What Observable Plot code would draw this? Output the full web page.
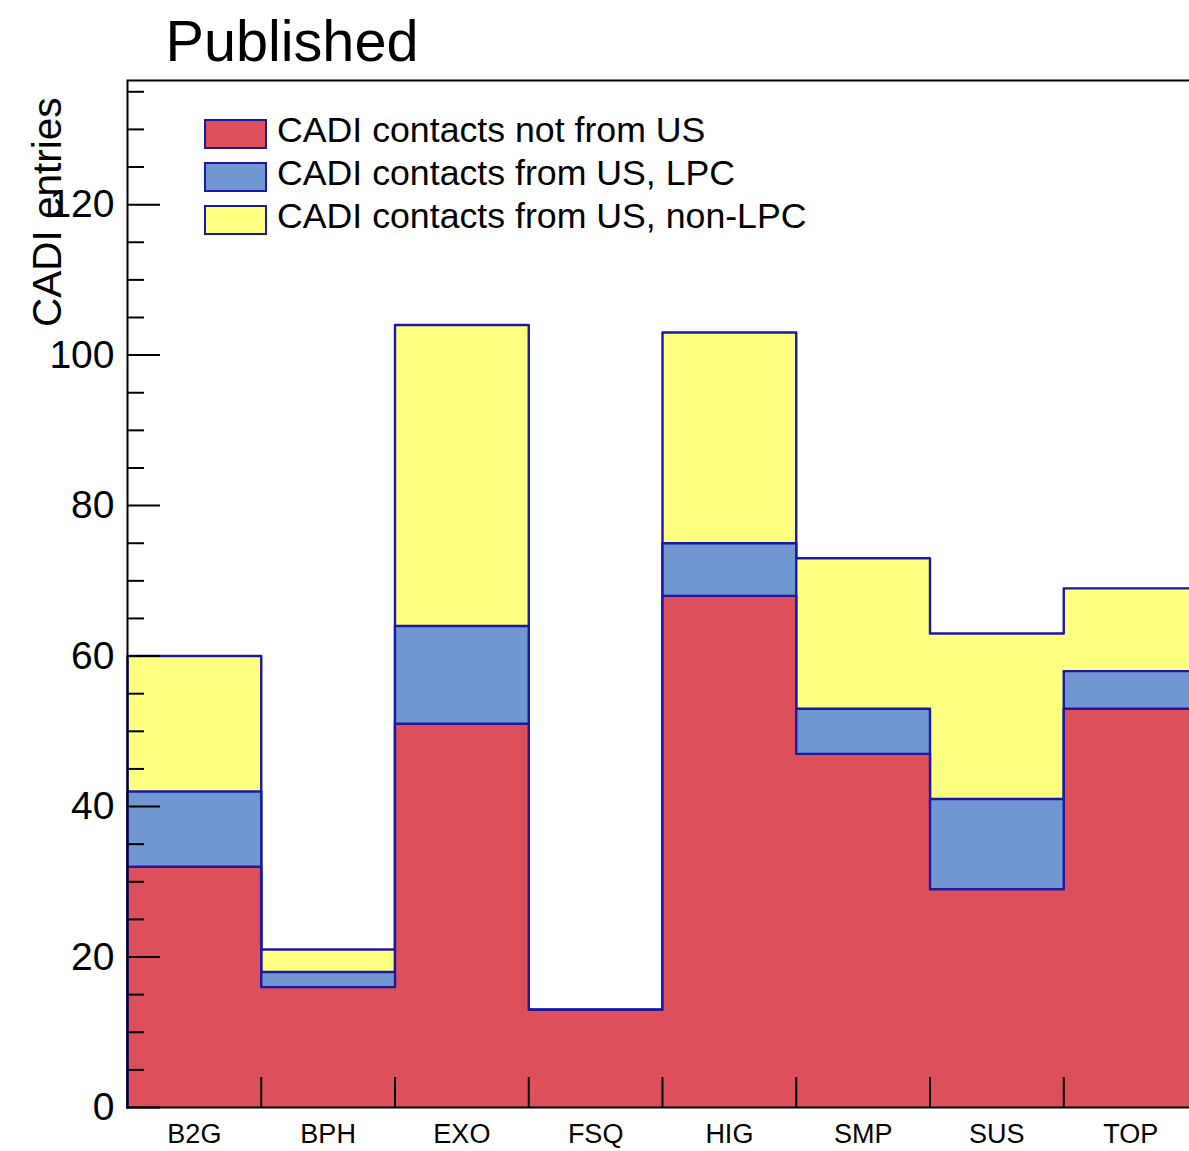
<!DOCTYPE html>
<html>
<head>
<meta charset="utf-8">
<script src="https://cdn.jsdelivr.net/npm/d3@7"></script>
<script src="https://cdn.jsdelivr.net/npm/@observablehq/plot@0.6"></script>
<style>
  html, body { margin: 0; padding: 0; background: #fff; overflow: hidden; }
  #wrap { position: relative; width: 1189px; height: 1151px; overflow: hidden; }
  #wrap svg { max-width: none; display: block; }
  .legend { position: absolute; left: 204px; top: 112px; font-family: "Liberation Sans", Arial, Helvetica, sans-serif; font-size: 35.7px; color: #000; }
  .legend .row { display: flex; align-items: center; height: 43px; line-height: 43px; white-space: nowrap; }
  .legend .sw { width: 63px; height: 30px; box-sizing: border-box; border: 2px solid #1a1aa0; margin-right: 10px; flex: none; }
  .legend .lbl { position: relative; top: -3px; }
</style>
</head>
<body>
<div id="wrap"></div>
<script>
// Published CADI entries per physics group, split by contact origin
const categories = ["B2G", "BPH", "EXO", "FSQ", "HIG", "SMP", "SUS", "TOP"];
const notFromUS   = [32, 16, 51, 13, 68, 47, 29, 53];
const fromUSLPC   = [10,  2, 13,  0,  7,  6, 12,  5];
const fromUSOther = [18,  3, 40,  0, 28, 20, 22, 11];
const seriesNames = [
  "CADI contacts not from US",
  "CADI contacts from US, LPC",
  "CADI contacts from US, non-LPC"
];
const seriesColors = ["#dd4f5b", "#7097d1", "#ffff80"];
const outlineColor = "#1a1aa0";
const majorTicks = [0, 20, 40, 60, 80, 100, 120];
const minorTicks = d3.range(5, 136, 5).filter(v => v % 20 !== 0);

// Cumulative histogram heights (each layer drawn as sum of itself and those below)
const layers = [notFromUS, fromUSLPC, fromUSOther];
const cumulative = layers.map((_, s) =>
  categories.map((c, i) => d3.sum(layers.slice(0, s + 1), v => v[i])));

// Step outline points at bin edges for each cumulative layer
const n = categories.length;
const stepPoints = cumulative.map((cum, s) => [
  {level: s, edge: 0, value: 0},
  ...cum.map((v, i) => ({level: s, edge: i, value: v})),
  {level: s, edge: n, value: cum[n - 1]},
  {level: s, edge: n, value: 0}
]);

const layerMarks = [2, 1, 0].flatMap(s => [
  Plot.areaY(stepPoints[s].slice(1, -1), {
    x: "edge", y1: 0, y2: "value", fill: seriesColors[s], curve: "step-after"
  }),
  Plot.lineY(stepPoints[s], {
    x: "edge", y: "value", stroke: outlineColor, strokeWidth: 2.4, curve: "step-after"
  })
]);

const font = "'Liberation Sans', Arial, Helvetica, sans-serif";

const chart = Plot.plot({
  width: 1197,
  height: 1151,
  marginLeft: 127,
  marginRight: 0,
  marginTop: 80,
  marginBottom: 44,
  style: {fontFamily: font, color: "#000", background: "#fff"},
  x: {type: "linear", domain: [0, n], label: null},
  y: {domain: [0, 136.5], label: null},
  marks: [
    ...layerMarks,
    Plot.frame({stroke: "#000", strokeWidth: 2}),
    // y axis: inward minor and major ticks, labels at major ticks
    Plot.axisY({ticks: minorTicks, tickSize: -17, strokeWidth: 2, fill: "none", label: null}),
    Plot.axisY({ticks: majorTicks, tickSize: -33, tickPadding: 46, strokeWidth: 2,
                fontSize: 39, tickFormat: d3.format("d"), label: null}),
    // x axis: upward ticks at bin edges, group names at bin centres
    Plot.axisX({ticks: d3.range(1, n), tickSize: -30, strokeWidth: 2, fill: "none", label: null}),
    Plot.axisX({ticks: d3.range(n).map(i => i + 0.5), tickSize: 0, tickPadding: 16,
                fontSize: 27, tickFormat: v => categories[Math.floor(v)], label: null}),
    Plot.text(["CADI entries"], {
      text: d => d, frameAnchor: "top-left", rotate: -90, textAnchor: "end",
      lineAnchor: "bottom", dx: -67, dy: 17, fontSize: 40.5
    }),
    Plot.text(["Published"], {
      text: d => d, frameAnchor: "top-left", textAnchor: "start",
      lineAnchor: "bottom", dx: 38, dy: -20, fontSize: 57.6
    })
  ]
});

const wrap = document.getElementById("wrap");
wrap.appendChild(chart);

// Legend overlay inside the plot frame
const legend = document.createElement("div");
legend.className = "legend";
seriesNames.forEach((name, s) => {
  const row = document.createElement("div");
  row.className = "row";
  const sw = document.createElement("span");
  sw.className = "sw";
  sw.style.background = seriesColors[s];
  const lbl = document.createElement("span");
  lbl.className = "lbl";
  lbl.textContent = name;
  row.appendChild(sw);
  row.appendChild(lbl);
  legend.appendChild(row);
});
wrap.appendChild(legend);
</script>
</body>
</html>
